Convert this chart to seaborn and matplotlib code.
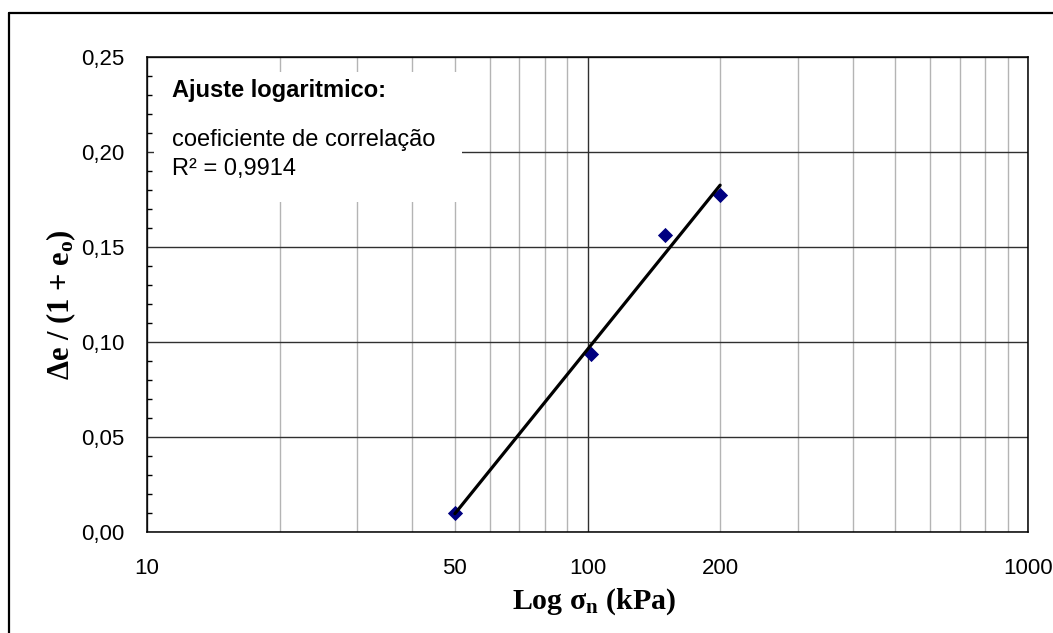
import numpy as np
import matplotlib
matplotlib.use("Agg")
import matplotlib.pyplot as plt
from matplotlib.lines import Line2D
from matplotlib.patches import Rectangle
from matplotlib.ticker import FixedLocator, FuncFormatter, MultipleLocator
import seaborn as sns

# data
tensao = [50, 101.7, 150, 200]            # sigma_n (kPa)
deform = [0.0098, 0.0935, 0.1563, 0.1774]  # delta e / (1 + e0)

x_major = [10, 100, 1000]
x_minor = [20, 30, 40, 50, 60, 70, 80, 90, 200, 300, 400, 500, 600, 700, 800, 900]
x_minor_labels = {50: "50", 200: "200"}
y_ticks = [0.00, 0.05, 0.10, 0.15, 0.20, 0.25]
y_tick_labels = ["0,00", "0,05", "0,10", "0,15", "0,20", "0,25"]

box_title = "Ajuste logaritmico:"
box_line1 = "coeficiente de correlação"
box_line2 = "R² = 0,9914"

sns.set_style("white")
plt.rcParams["font.family"] = ["Liberation Sans", "DejaVu Sans"]
plt.rcParams["text.color"] = "black"
plt.rcParams["axes.labelcolor"] = "black"
plt.rcParams["xtick.color"] = "black"
plt.rcParams["ytick.color"] = "black"
plt.rcParams["mathtext.fontset"] = "custom"
plt.rcParams["mathtext.rm"] = "Liberation Serif:bold"
plt.rcParams["mathtext.bf"] = "Liberation Serif:bold"
plt.rcParams["mathtext.it"] = "Liberation Serif:bold"

fig = plt.figure(figsize=(10.53, 6.33), dpi=100)
ax = fig.add_axes([0.1396, 0.16, 0.8367, 0.7495])

# regression (log fit), drawn over the points range
sns.regplot(x=tensao, y=deform, logx=True, ci=None, scatter=False, ax=ax,
            line_kws={"color": "black", "lw": 2.3, "zorder": 4})
sns.scatterplot(x=tensao, y=deform, marker="D", color="#000080", s=60,
                linewidth=0, ax=ax, zorder=3)

ax.set_xscale("log")
ax.set_xlim(10, 1000)
ax.set_ylim(0, 0.25)

ax.xaxis.set_major_locator(FixedLocator(x_major))
ax.xaxis.set_major_formatter(FuncFormatter(lambda v, p: "%d" % v))
ax.xaxis.set_minor_locator(FixedLocator(x_minor))
ax.xaxis.set_minor_formatter(FuncFormatter(lambda v, p: x_minor_labels.get(int(round(v)), "")))
ax.set_yticks(y_ticks)
ax.set_yticklabels(y_tick_labels)
ax.yaxis.set_minor_locator(MultipleLocator(0.01))

ax.tick_params(axis="x", which="both", direction="out", length=3.6, width=1,
               color="black", labelcolor="black", pad=15.5, labelsize=16)
ax.tick_params(axis="y", which="major", direction="inout", length=7, width=1,
               color="black", labelcolor="black", pad=13, labelsize=16)
ax.tick_params(axis="y", which="minor", direction="in", length=3.6, width=1,
               color="black", left=True)

ax.set_axisbelow(True)
ax.grid(which="major", axis="both", color="#303030", lw=1)
ax.grid(which="minor", axis="x", color="#b4b4b4", lw=1)
ax.grid(which="minor", axis="y", visible=False)

for s in ax.spines.values():
    s.set_visible(True)
    s.set_color("black")
    s.set_linewidth(1.1)

ax.set_xlabel("Log σ$_{n}$ (kPa)", family="Liberation Serif", weight="bold",
              fontsize=21.5, va="baseline", color="black")
ax.xaxis.set_label_coords(0.507, -0.163)
ax.set_ylabel("Δe / (1 + e$_{o}$)", family="Liberation Serif", weight="bold",
              fontsize=22, color="black")
ax.yaxis.set_label_coords(-0.078, 0.478)

# white label box
ax.add_patch(Rectangle((0.008, 0.695), 0.35, 0.273, transform=ax.transAxes,
                       facecolor="white", edgecolor="none", zorder=1))
ax.text(0.0284, 0.9157, box_title, transform=ax.transAxes, fontsize=17,
        weight="bold", va="baseline", color="black", zorder=2)
ax.text(0.0284, 0.813, box_line1, transform=ax.transAxes, fontsize=17,
        va="baseline", color="black", zorder=2)
ax.text(0.0284, 0.752, box_line2, transform=ax.transAxes, fontsize=17,
        va="baseline", color="black", zorder=2)

# outer chart frame (top and left edges only visible)
fig.add_artist(Line2D([8.5 / 1053, 1], [1 - 12.7 / 633] * 2,
                      transform=fig.transFigure, color="black", lw=1.6))
fig.add_artist(Line2D([8.5 / 1053] * 2, [0, 1 - 12.7 / 633],
                      transform=fig.transFigure, color="black", lw=1.6))

plt.savefig("out.png", dpi=100)
